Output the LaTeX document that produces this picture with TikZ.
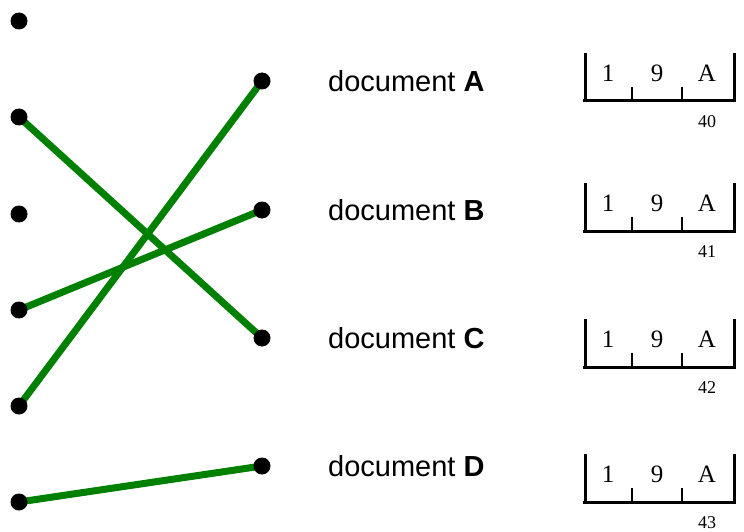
\documentclass[tikz,border=0pt]{standalone}
\usepackage{fontspec}
\setmainfont{Liberation Serif}
\newfontfamily\labelfont{Liberation Sans}
\begin{document}
\begin{tikzpicture}[x=1pt,y=-1pt,
  dot/.style={circle,fill=black,inner sep=0pt,minimum size=17pt},
  link/.style={draw=green!50!black,line width=7pt},
  doclabel/.style={anchor=west,inner sep=0pt,font=\labelfont\fontsize{29}{34}\selectfont},
  cell/.style={font=\fontsize{25}{28}\selectfont,inner sep=0pt},
  num/.style={font=\fontsize{18}{21}\selectfont,inner sep=0pt},
  frame/.style={line width=3pt},
  tick/.style={line width=2pt}]
\useasboundingbox (0,0) rectangle (744,532);
% coordinates
\foreach \i/\y in {1/21,2/117,3/214,4/310,5/406,6/502} \coordinate (L\i) at (19,\y);
\foreach \i/\y in {1/81,2/210,3/338,4/466} \coordinate (R\i) at (262,\y);
% links
\draw[link] (L2) -- (R3);
\draw[link] (L4) -- (R2);
\draw[link] (L5) -- (R1);
\draw[link] (L6) -- (R4);
% dots
\foreach \i in {1,...,6} \node[dot] (dl\i) at (L\i) {};
\foreach \i in {1,...,4} \node[dot] (dr\i) at (R\i) {};
% boxes
\foreach \i/\b/\n in {1/101/40,2/231/41,3/367/42,4/502/43}{
  \draw[frame] (585,{\b-48}) -- (585,\b) -- (734,\b) -- (734,{\b-48});
  \draw[frame] (583,\b) -- (585,\b);
  \draw[tick] (632,\b) -- (632,{\b-14});
  \draw[tick] (682,\b) -- (682,{\b-14});
  \node[cell] (c1\i) at (608,{\b-28}) {1};
  \node[cell] (c9\i) at (657,{\b-28}) {9};
  \node[cell] (cA\i) at (707,{\b-28}) {A};
  \node[num] (n\i) at (707,{\b+21}) {\n};
}
% labels
\node[doclabel] (lab1) at (328,81) {document \textbf{A}};
\node[doclabel] (lab2) at (328,210) {document \textbf{B}};
\node[doclabel] (lab3) at (328,338) {document \textbf{C}};
\node[doclabel] (lab4) at (328,466) {document \textbf{D}};
\end{tikzpicture}
\end{document}
